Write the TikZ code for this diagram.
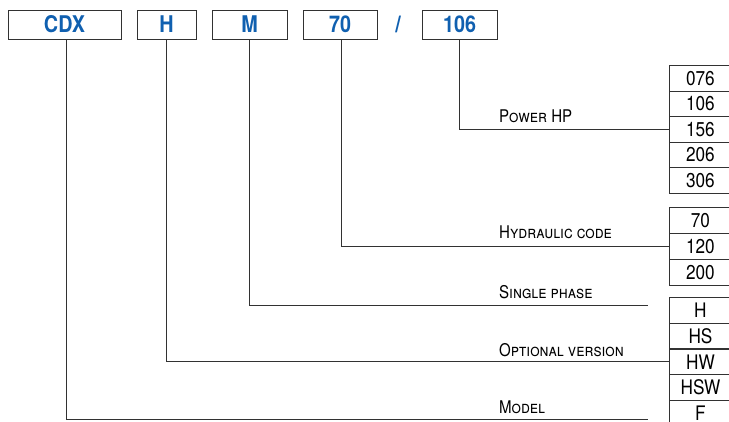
\documentclass[tikz,border=0pt]{standalone}
\usepackage{fontspec}
\setmainfont{TeX Gyre Heros}[FakeStretch=0.86]
\usepackage{tikz}
\definecolor{codeblue}{RGB}{16,96,176}
\definecolor{linegray}{RGB}{50,50,50}
\tikzset{
  codebox/.style={draw=linegray,line width=0.9pt,minimum height=29pt,inner sep=0pt,
    text=codeblue,font=\fontsize{23}{23}\selectfont\bfseries},
  optbox/.style={draw=linegray,line width=0.9pt,minimum width=62pt,minimum height=25.6pt,
    inner sep=0pt,anchor=north west,font=\fontsize{20}{20}\selectfont},
  lbl/.style={anchor=base west,inner sep=0pt,font=\fontsize{17.5}{17.5}\selectfont},
  conn/.style={draw=linegray,line width=0.9pt}
}
\begin{document}
\begin{tikzpicture}[x=1pt,y=-1pt]
		\useasboundingbox (0,0) rectangle (729,421);
		
				\node[codebox,minimum width=113pt] (cdx) at (64.5,24.5) {CDX};
				\node[codebox,minimum width=59pt] (h) at (166.5,24.5) {H};
				\node[codebox,minimum width=75pt] (m) at (249.5,24.5) {M};
				\node[codebox,minimum width=74pt] (c70) at (340,24.5) {70};
				\node[text=codeblue,font=\fontsize{23}{23}\selectfont\bfseries] (sl) at (398,24.5) {/};
				\node[codebox,minimum width=75pt] (c106) at (459.5,24.5) {106};
				
				% power stack
				\foreach \v [count=\i] in {076,106,156,206,306}
					\node[optbox] (pw\i) at (669,{65+(\i-1)*25.6}) {\v};
				% hydraulic stack
				\foreach \v [count=\i] in {70,120,200}
					\node[optbox] (hy\i) at (669,{207+(\i-1)*26}) {\v};
				% version stack
				\foreach \v [count=\i] in {H,HS,HW,HSW,F}
					\node[optbox] (ver\i) at (669,{297+(\i-1)*25.8}) {\v};
				
				\node[lbl] (lpw) at (499,122) {\textsc{Power HP}};
				\node[lbl] (lhy) at (499,238) {\textsc{Hydraulic code}};
				\node[lbl] (lsp) at (499,298) {\textsc{Single phase}};
				\node[lbl] (lov) at (499,356) {\textsc{Optional version}};
				\node[lbl] (lmd) at (499,413) {\textsc{Model}};
				
				\coordinate (spend) at (648,305);
				\coordinate (mdend) at (648,419);
				
				\draw[conn] ([xshift=1.5pt]cdx.south) |- (mdend);
				\draw[conn] (h.south) |- (ver3.west);
				\draw[conn] (m.south) |- (spend);
				\draw[conn] ([xshift=1pt]c70.south) |- (hy2.west);
				\draw[conn] (c106.south) |- (pw3.west);
		
\end{tikzpicture}
\end{document}
